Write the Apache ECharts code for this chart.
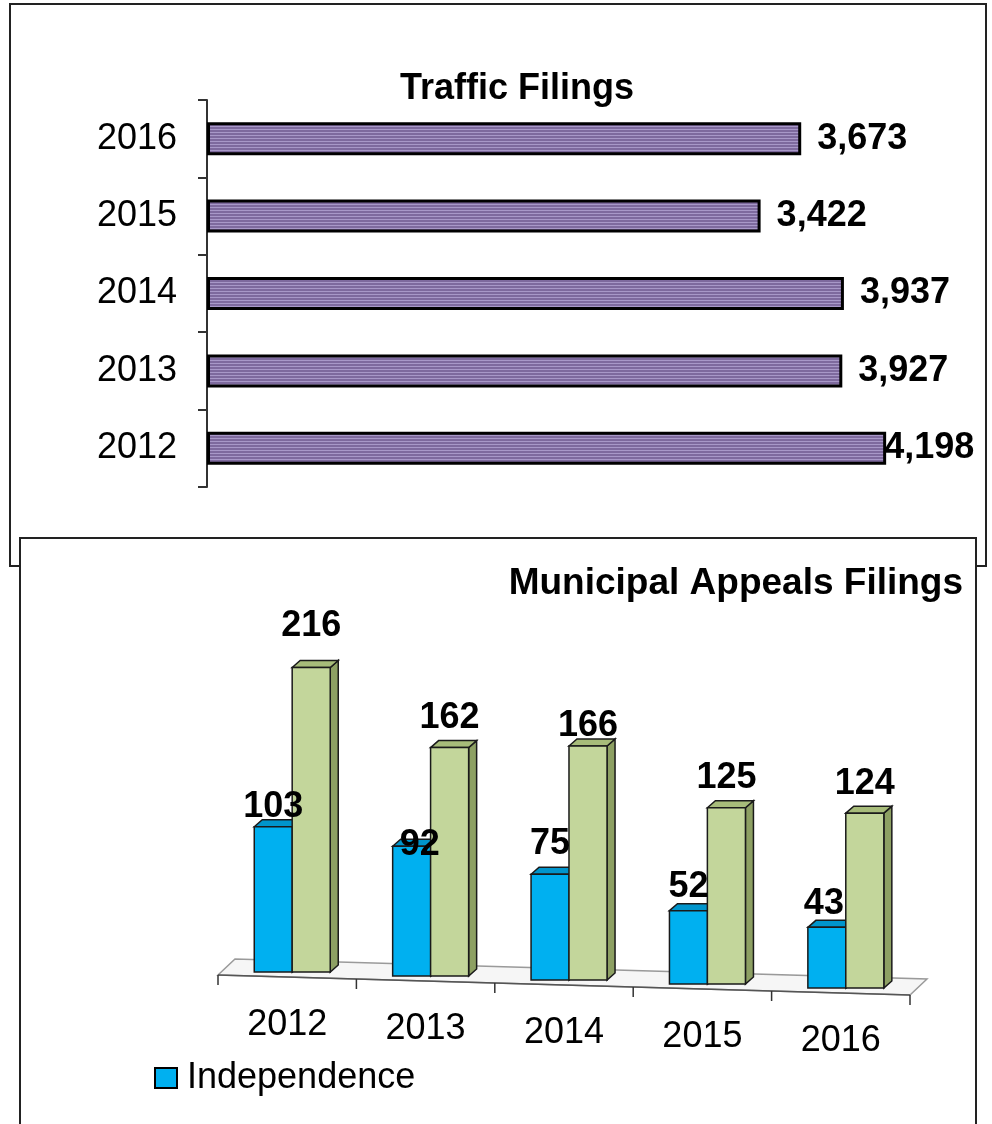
<!DOCTYPE html>
<html>
<head>
<meta charset="utf-8">
<script src="https://cdn.jsdelivr.net/npm/echarts@6/dist/echarts.min.js"></script>
<style>
html,body{margin:0;padding:0;background:#fff;}
#chart{width:992px;height:1124px;}
</style>
</head>
<body>
<div id="chart"></div>
<script>
// ---------- DATA ----------
const trafficYears = ['2012', '2013', '2014', '2015', '2016'];
const trafficValues = [4198, 3927, 3937, 3422, 3673];

const appealYears = ['2012', '2013', '2014', '2015', '2016'];
const independenceValues = [103, 92, 75, 52, 43];
const otherCourtValues = [216, 162, 166, 125, 124];

const seriesNames = ['Independence', 'Other'];

// ---------- STYLE ----------
const FONT = '"Liberation Sans", Arial, sans-serif';
const labelLift = [
  [20, 1, 30, 24, 23],
  [41, 30, 20, 30, 29]
];
const labelShiftX = [
  [0, 8, 0, 0, -3],
  [0, 0, 0, 0, 0]
];

// stripe pattern for traffic bars
const pat = document.createElement('canvas');
pat.width = 4; pat.height = 3;
const pctx = pat.getContext('2d');
pctx.fillStyle = '#7E6A9E';
pctx.fillRect(0, 0, 4, 3);
pctx.fillStyle = '#A898C8';
pctx.fillRect(0, 0, 4, 1);

const faces = [
  { front: '#00B0F0', side: '#0086B8', top: '#0095CC' },
  { front: '#C3D69B', side: '#8DA063', top: '#A7BC7A' }
];
const slotOffset = [-0.238, 0.036];
const slotWidth = 0.275;
const DEPTH_X = 8, DEPTH_Y = 7;
const TILT = 4 / 138.4;

function geom(s, api) {
  const idx = api.value(0);
  const val = api.value(1);
  const bw = api.size([1, 0])[0];
  const base = api.coord([idx, 0]);
  const top = api.coord([idx, val]);
  const dy = (idx - 2) * bw * TILT;
  const x0 = base[0] + slotOffset[s] * bw;
  const w = slotWidth * bw;
  return { idx, val, x0, w, yb: base[1] + dy, yt: top[1] + dy };
}

function barRenderer(s) {
  return function (params, api) {
    const g = geom(s, api);
    const { x0, w, yb, yt } = g;
    const f = faces[s];
    const stroke = { stroke: '#1a1a1a', lineWidth: 1.5 };
    return {
      type: 'group',
      children: [
        { type: 'polygon', shape: { points: [[x0 + w, yt], [x0 + w + DEPTH_X, yt - DEPTH_Y], [x0 + w + DEPTH_X, yb - DEPTH_Y], [x0 + w, yb]] }, style: Object.assign({ fill: f.side }, stroke) },
        { type: 'polygon', shape: { points: [[x0, yt], [x0 + DEPTH_X, yt - DEPTH_Y], [x0 + w + DEPTH_X, yt - DEPTH_Y], [x0 + w, yt]] }, style: Object.assign({ fill: f.top }, stroke) },
        { type: 'rect', shape: { x: x0, y: yt, width: w, height: yb - yt }, style: Object.assign({ fill: f.front }, stroke) }
      ]
    };
  };
}

function labelRenderer(s) {
  return function (params, api) {
    const g = geom(s, api);
    return {
      type: 'text',
      x: g.x0 + g.w / 2 + labelShiftX[s][g.idx],
      y: g.yt - labelLift[s][g.idx],
      style: { text: String(g.val), font: 'bold 36px ' + FONT, fill: '#000', align: 'center', verticalAlign: 'middle' }
    };
  };
}

function floorRenderer(params, api) {
  const bw = api.size([1, 0])[0];
  const c0 = api.coord([0, 0]);
  const c4 = api.coord([4, 0]);
  const c2 = api.coord([2, 0]);
  const left = c0[0] - bw / 2, right = c4[0] + bw / 2;
  const fy = x => c2[1] + (x - c2[0]) * TILT + 5;
  const bx = 17, by = -16;
  const children = [
    { type: 'polygon', shape: { points: [[left, fy(left)], [left + bx, fy(left) + by], [right + bx, fy(right) + by], [right, fy(right)]] }, style: { fill: '#F6F6F6', stroke: '#9a9a9a', lineWidth: 1.5 } },
    { type: 'line', shape: { x1: left, y1: fy(left), x2: right, y2: fy(right) }, style: { stroke: '#555', lineWidth: 1.5 } }
  ];
  for (let i = 0; i <= 5; i++) {
    const x = left + i * bw;
    children.push({ type: 'line', shape: { x1: x, y1: fy(x), x2: x, y2: fy(x) + 10 }, style: { stroke: '#333', lineWidth: 1.5 } });
  }
  return { type: 'group', children: children };
}

const chart = echarts.init(document.getElementById('chart'), null, { renderer: 'canvas' });

const richYears = {};
for (let i = 0; i < 5; i++) {
  richYears['y' + i] = { fontSize: 36, fontFamily: FONT, color: '#000', padding: [4 * i, 0, 0, 0] };
}

const option = {
  backgroundColor: '#fff',
  animation: false,
  title: [
    { text: 'Traffic Filings', left: 395, top: 66, textStyle: { fontSize: 36, fontWeight: 'bold', fontFamily: FONT, color: '#000' } },
    { text: 'Municipal Appeals Filings', right: 24, top: 560, textStyle: { fontSize: 37, fontWeight: 'bold', fontFamily: FONT, color: '#000' } }
  ],
  graphic: [
    { type: 'rect', z: 0, shape: { x: 10, y: 4, width: 976, height: 562 }, style: { fill: '#fff', stroke: '#222', lineWidth: 2 } },
    { type: 'rect', z: 0, shape: { x: 20, y: 538, width: 956, height: 620 }, style: { fill: '#fff', stroke: '#222', lineWidth: 2 } }
  ],
  legend: {
    data: [{ name: 'Independence', icon: 'rect' }],
    left: 149, top: 1055,
    itemWidth: 22, itemHeight: 20,
    itemStyle: { borderColor: '#000', borderWidth: 2 },
    textStyle: { fontSize: 36, fontFamily: FONT, color: '#000', padding: [0, 0, 0, 5] }
  },
  grid: [
    { left: 207, top: 100, width: 728, height: 387 },
    { left: 218, width: 692, bottom: 144, height: 423 }
  ],
  xAxis: [
    { type: 'value', gridIndex: 0, min: 0, max: 4500, show: false },
    {
      type: 'category', gridIndex: 1, data: appealYears,
      axisLine: { show: false }, axisTick: { show: false },
      axisLabel: { margin: 27, interval: 0, formatter: (v, i) => '{y' + i + '|' + v + '}', rich: richYears }
    }
  ],
  yAxis: [
    {
      type: 'category', gridIndex: 0, data: trafficYears,
      axisLine: { show: true, lineStyle: { color: '#333', width: 2 } },
      axisTick: { show: true, length: 9, lineStyle: { color: '#333', width: 2 } },
      axisLabel: { margin: 30, fontSize: 36, fontFamily: FONT, color: '#000' },
      splitLine: { show: false }
    },
    { type: 'value', gridIndex: 1, min: 0, max: 300, show: false }
  ],
  series: [
    {
      type: 'bar', name: 'Traffic', xAxisIndex: 0, yAxisIndex: 0,
      barWidth: 33,
      itemStyle: { color: { image: pat, repeat: 'repeat' }, borderColor: '#000', borderWidth: 3 },
      label: { show: true, position: 'right', distance: 16, fontSize: 36, fontWeight: 'bold', fontFamily: FONT, color: '#000',
        formatter: p => p.value.toLocaleString('en-US') },
      data: trafficValues.map((v, i) => i === 0 ? { value: v, label: { distance: -2 } } : v)
    },
    {
      type: 'custom', name: 'floor', xAxisIndex: 1, yAxisIndex: 1, z: 1,
      renderItem: floorRenderer, data: [[0, 0]], silent: true
    },
    {
      type: 'custom', name: seriesNames[0], xAxisIndex: 1, yAxisIndex: 1, z: 3,
      itemStyle: { color: '#00B0F0' },
      renderItem: barRenderer(0), encode: { x: 0, y: 1 },
      data: independenceValues.map((v, i) => [i, v])
    },
    {
      type: 'custom', name: seriesNames[1], xAxisIndex: 1, yAxisIndex: 1, z: 4,
      itemStyle: { color: '#C3D69B' },
      renderItem: barRenderer(1), encode: { x: 0, y: 1 },
      data: otherCourtValues.map((v, i) => [i, v])
    },
    {
      type: 'custom', name: seriesNames[0] + ' labels', xAxisIndex: 1, yAxisIndex: 1, z: 6, silent: true,
      renderItem: labelRenderer(0), encode: { x: 0, y: 1 },
      data: independenceValues.map((v, i) => [i, v])
    },
    {
      type: 'custom', name: seriesNames[1] + ' labels', xAxisIndex: 1, yAxisIndex: 1, z: 6, silent: true,
      renderItem: labelRenderer(1), encode: { x: 0, y: 1 },
      data: otherCourtValues.map((v, i) => [i, v])
    }
  ]
};
chart.setOption(option);
</script>
</body>
</html>
